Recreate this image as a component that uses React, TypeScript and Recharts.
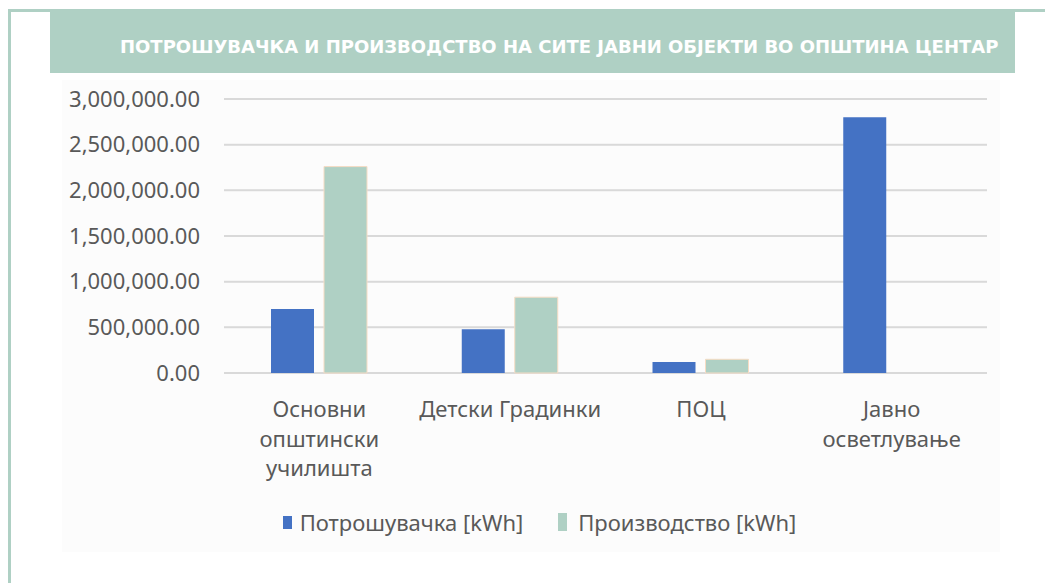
import React from "react";
import { BarChart, Bar, XAxis, YAxis, CartesianGrid, Legend } from "recharts";

const categories = ["Основни општински училишта", "Детски Градинки", "ПОЦ", "Јавно осветлување"];
const categoryLines: string[][] = [
  ["Основни", "општински", "училишта"],
  ["Детски Градинки"],
  ["ПОЦ"],
  ["Јавно", "осветлување"],
];
const consumption = [700000, 480000, 120000, 2800000];
const production = [2260000, 830000, 150000, 0];
const yTicks = [0, 500000, 1000000, 1500000, 2000000, 2500000, 3000000];
const seriesNames = ["Потрошувачка [kWh]", "Производство [kWh]"];
const title = "ПОТРОШУВАЧКА И ПРОИЗВОДСТВО НА СИТЕ ЈАВНИ ОБЈЕКТИ ВО ОПШТИНА ЦЕНТАР";

const BLUE = "#4472C4";
const GREEN = "#AFD0C4";
const TEXT = "#595959";
const FONT = "'Noto Sans', sans-serif";

const data = categories.map((c, i) => ({
  name: c,
  idx: i,
  consumption: consumption[i],
  production: production[i],
}));

const fmt = (v: number) =>
  v.toLocaleString("en-US", { minimumFractionDigits: 2, maximumFractionDigits: 2 });

const XTick = (props: any) => {
  const { x, y, payload } = props;
  const i = categories.indexOf(payload.value);
  const lines = i >= 0 ? categoryLines[i] : [payload.value];
  return (
    <text x={x} y={y} textAnchor="middle" fill={TEXT} fontFamily={FONT} fontSize={22}>
      {lines.map((l, k) => (
        <tspan key={k} x={x} y={y + 36 + k * 29.5}>
          {l}
        </tspan>
      ))}
    </text>
  );
};

const LegendContent = () => {
  const colors = [BLUE, GREEN];
  return (
    <div style={{ display: "flex", justifyContent: "center", alignItems: "center", fontFamily: FONT, fontSize: 22, color: TEXT, height: 30, paddingLeft: 32, boxSizing: "border-box" }}>
      {seriesNames.map((n, i) => (
        <div key={n} style={{ display: "flex", alignItems: "center", marginRight: i === 0 ? 35 : 0 }}>
          <div style={{ width: 9, height: i === 0 ? 13 : 18, background: colors[i], marginRight: i === 0 ? 8 : 11 }} />
          <span>{n}</span>
        </div>
      ))}
    </div>
  );
};

export default function App() {
  return (
    <div style={{ position: "absolute", left: 0, top: 0, width: 1045, height: 583, background: "#fff", overflow: "hidden" }}>
      <div style={{ position: "absolute", left: 8, top: 9, width: 1037, height: 3, background: GREEN }} />
      <div style={{ position: "absolute", left: 8, top: 9, width: 3, height: 574, background: GREEN }} />
      <div style={{ position: "absolute", left: 62, top: 80, width: 938, height: 472, background: "#FCFCFC" }} />
      <div
        style={{
          position: "absolute",
          left: 50,
          top: 12,
          width: 965,
          height: 61,
          background: GREEN,
          color: "#fff",
          fontFamily: "'DejaVu Sans', sans-serif",
          fontWeight: 700,
          fontSize: 18,
          lineHeight: "69px",
          boxSizing: "border-box",
          paddingLeft: 70,
          whiteSpace: "nowrap",
          overflow: "hidden",
        }}
      >
        {title}
      </div>
      <div style={{ position: "absolute", left: 0, top: 0 }}>
        <BarChart
          width={1045}
          height={583}
          data={data}
          margin={{ top: 99, right: 58, left: 60, bottom: 46 }}
          barSize={43}
          barGap={10}
        >
          <CartesianGrid vertical={false} stroke="#D9D9D9" strokeWidth={2} />
          <XAxis
            dataKey="name"
            axisLine={false}
            tickLine={false}
            interval={0}
            height={134}
            tick={<XTick />}
          />
          <YAxis
            domain={[0, 3000000]}
            ticks={yTicks}
            width={164}
            axisLine={false}
            tickLine={false}
            tickMargin={18}
            tickFormatter={fmt}
            tick={{ fill: TEXT, fontFamily: FONT, fontSize: 22 }}
          />
          <Legend verticalAlign="bottom" content={<LegendContent />} />
          <Bar dataKey="consumption" name={seriesNames[0]} fill={BLUE} isAnimationActive={false} />
          <Bar dataKey="production" name={seriesNames[1]} fill={GREEN} stroke="#F6DCC4" strokeWidth={1} isAnimationActive={false} />
        </BarChart>
      </div>
    </div>
  );
}
